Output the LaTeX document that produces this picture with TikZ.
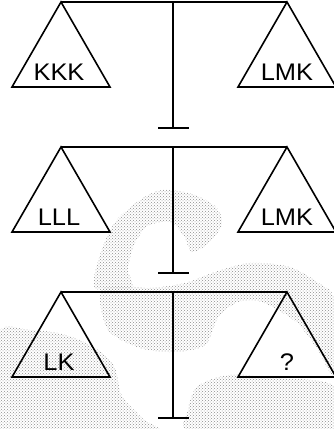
\documentclass[tikz,border=0pt]{standalone}
\usepackage{fontspec}
\setmainfont{Liberation Sans}[FakeStretch=1.06]
\usetikzlibrary{patterns, calc}

\begin{document}
\begin{tikzpicture}[
  x=1pt, y=-1pt,
  beam/.style={line width=2pt},
  pan/.style={line width=1.6pt, line join=miter},
  weight/.style={font=\fontsize{24}{26}\selectfont, inner sep=0pt},
  stipple/.style={pattern=crosshatch dots, pattern color=black!45}
]
\useasboundingbox (0,0) rectangle (333,429);

% ----- background stipple -----
\fill[stipple] plot[smooth cycle] coordinates {
  (95,288) (100,255) (115,222) (140,200) (162,190) (192,194) (216,207)
  (222,224) (210,242) (192,252) (184,236) (170,222) (148,226) (134,245)
  (128,270) (132,288)};
\fill[stipple] plot[smooth cycle] coordinates {
  (100,292) (108,330) (140,348) (175,352) (205,345) (218,318) (238,302)
  (262,302) (296,322) (318,350) (334,374) (334,300) (320,284) (290,267)
  (250,263) (215,272) (185,283) (150,288) (120,286)};
\fill[stipple] plot[smooth cycle] coordinates {
  (-2,334) (30,330) (62,334) (92,346) (114,366) (122,396) (142,418)
  (152,432) (-2,432)};
\fill[stipple] plot[smooth cycle] coordinates {
  (198,386) (230,375) (280,378) (334,386) (334,432) (194,432) (188,410)};

% ----- scales -----
\foreach \dy/\lt/\rt [count=\i] in {0/KKK/LMK, 145/LLL/LMK, 290/LK/?} {
  \coordinate (l\i) at (61,2+\dy);
  \coordinate (r\i) at (287,2+\dy);
  \coordinate (p\i) at (173,2+\dy);
  \coordinate (f\i) at (173,128+\dy);
  \draw[beam] (l\i) -- (r\i);
  \draw[beam] (p\i) -- (f\i);
  \draw[beam] ($(f\i)+(-15,0)$) -- ($(f\i)+(16,0)$);
  \draw[pan] (l\i) -- ++(-49,85) -- ++(98,0) -- cycle;
  \draw[pan] (r\i) -- ++(-49,85) -- ++(98,0) -- cycle;
  \node[weight] (wl\i) at ($(l\i)+(-2,70)$) {\lt};
  \node[weight] (wr\i) at ($(r\i)+(0,70)$) {\rt};
}

\end{tikzpicture}
\end{document}
